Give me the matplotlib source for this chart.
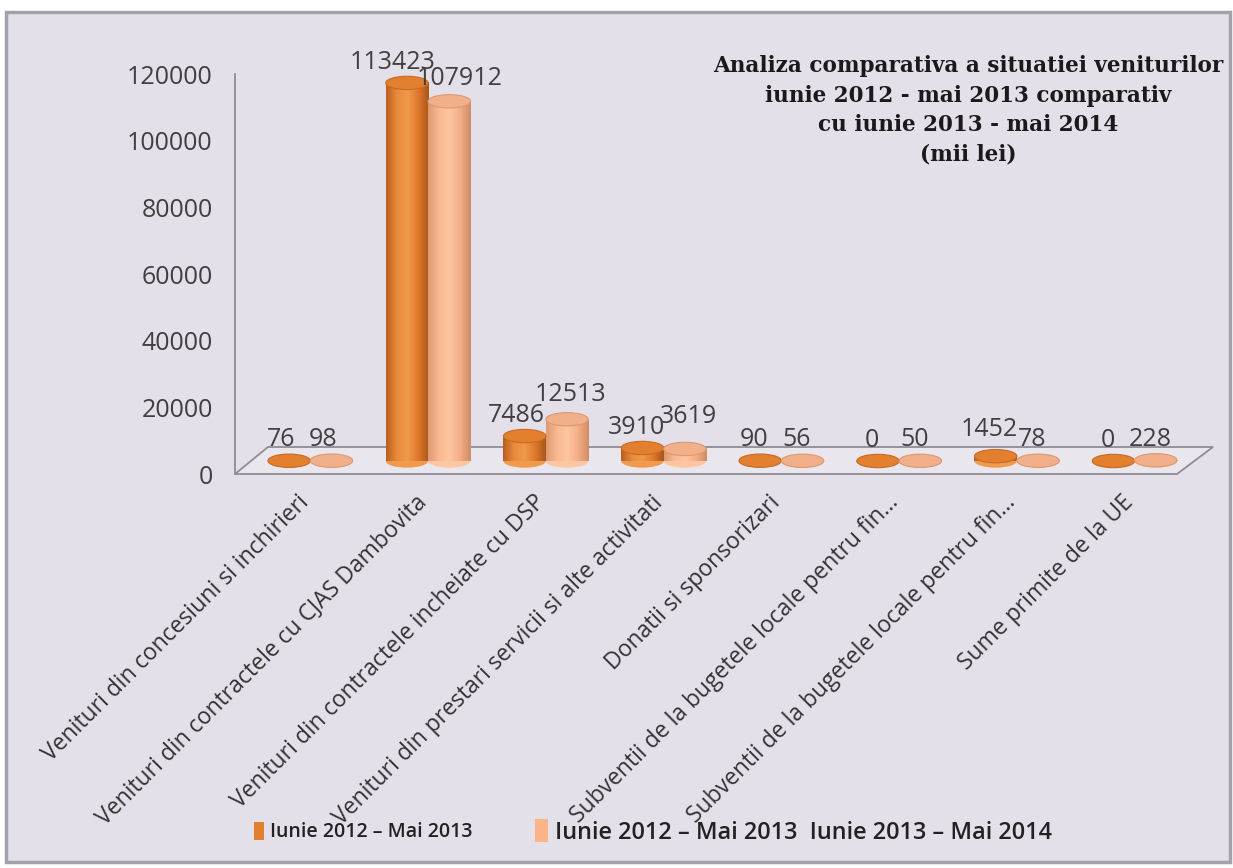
import matplotlib
matplotlib.use("Agg")
import matplotlib.pyplot as plt
import numpy as np
from matplotlib.patches import Ellipse, Patch, Rectangle, Polygon
from matplotlib.colors import LinearSegmentedColormap

categories = [
    "Venituri din concesiuni si inchirieri",
    "Venituri din contractele cu CJAS Dambovita",
    "Venituri din contractele incheiate cu DSP",
    "Venituri din prestari servicii si alte activitati",
    "Donatii si sponsorizari",
    "Subventii de la bugetele locale pentru fin...",
    "Subventii de la bugetele locale pentru fin...",
    "Sume primite de la UE",
]
series_a = [76, 113423, 7486, 3910, 90, 0, 1452, 0]
series_b = [98, 107912, 12513, 3619, 56, 50, 78, 228]
legend_a = "Iunie 2012 \u2013 Mai 2013"
legend_b = "Iunie 2012 \u2013 Mai 2013  Iunie 2013 \u2013 Mai 2014"
yticks = [0, 20000, 40000, 60000, 80000, 100000, 120000]
title = ("Analiza comparativa a situatiei veniturilor\n"
         "iunie 2012 - mai 2013 comparativ\n"
         "cu iunie 2013 - mai 2014\n"
         "(mii lei)")

# label nudges in pixels (dx, dy), to mimic excel's staggering
nudge_a = [(-8, 0), (-14, 0), (-8, 0), (-6, 0), (-6, 0), (-6, 0), (-6, 6), (-6, 0)]
nudge_b = [(-8, 0), (10, 2), (3, 4), (4, 12), (-6, 0), (-6, 0), (-6, 0), (-6, 0)]

W, H = 1233, 868
fig = plt.figure(figsize=(W / 100, H / 100), dpi=100)
fig.patch.set_facecolor("white")
bg = "#e4e0ea"
fig.patches.append(Rectangle((6 / W, 6 / H), 1224 / W, 850 / H, transform=fig.transFigure,
                             facecolor=bg, edgecolor="#a3a1aa", linewidth=2.5, zorder=-5))

ax = fig.add_axes([235 / W, (H - 474) / H, (1177 - 235) / W, (474 - 74) / H])
ax.set_facecolor("none")
ax.set_zorder(2)

font = "Open Sans"
txt_col = "#404040"

shift = 0.14          # depth shift of bars (x units)
base = 3900           # depth shift of bars (y units)
bw = 0.36
cap_h = 4000

cmap_a = LinearSegmentedColormap.from_list("a", ["#b9601f", "#e98a3c", "#f09a4c", "#e07a2c", "#a9551a"])
cmap_b = LinearSegmentedColormap.from_list("b", ["#dd9a72", "#f9b990", "#fdc6a2", "#f4ae86", "#cf8c66"])
grad = np.linspace(0, 1, 64).reshape(1, -1)

def draw_bar(x, v, cmap, top_col, edge_col):
    ax.add_patch(Ellipse((x, base), bw, cap_h, facecolor=cmap(0.5), edgecolor="none", zorder=3))
    if v > 0:
        ax.imshow(grad, cmap=cmap, aspect="auto", extent=[x - bw / 2, x + bw / 2, base, base + v],
                  zorder=4, interpolation="bilinear")
    ax.add_patch(Ellipse((x, base + v), bw, cap_h, facecolor=top_col, edgecolor=edge_col,
                         linewidth=0.8, zorder=5))

for i in range(len(categories)):
    xa = i + shift - bw / 2
    xb = i + shift + bw / 2
    draw_bar(xa, series_a[i], cmap_a, "#e2802f", "#c86a22")
    draw_bar(xb, series_b[i], cmap_b, "#f2b08a", "#dc9870")
    for x, v, (dx, dy) in ((xa, series_a[i], nudge_a[i]), (xb, series_b[i], nudge_b[i])):
        ax.annotate(str(v), (x, base + v), xytext=(dx * 0.72, 6 + dy * 0.72), textcoords="offset points",
                    ha="center", va="bottom", fontsize=18, family=font, color=txt_col, zorder=6)

ax.set_xlim(-0.5, 7.5)
ax.set_ylim(0, 120000)

# floor of the 3d chart
px = 1 / (1177 - 235)
py = 1 / 400
floor = Polygon([(0, 0), (1, 0), (1 + 36 * px, 27 * py), (33 * px, 27 * py)], closed=True,
                transform=ax.transAxes, facecolor="#e9e6ee", edgecolor="#8e8c98", linewidth=1.3,
                clip_on=False, zorder=1)
ax.add_patch(floor)

for s in ["top", "right", "bottom"]:
    ax.spines[s].set_visible(False)
ax.spines["left"].set_color("#8e8c98")
ax.spines["left"].set_linewidth(1.3)

ax.set_yticks(yticks)
ax.set_yticklabels([str(t) for t in yticks], family=font, fontsize=18, color=txt_col)
ax.tick_params(axis="y", length=0, pad=16)
ax.set_xticks([i + 0.03 for i in range(len(categories))])
ax.set_xticklabels(categories, rotation=45, ha="right", rotation_mode="anchor",
                   family=font, fontsize=16.5, color="#333333")
ax.tick_params(axis="x", length=0, pad=12)

fig.text(968 / W, 1 - 55 / H, title, ha="center", va="top", family="DejaVu Serif",
         fontweight="bold", fontsize=15.5, color="#1a1a1a", linespacing=1.45)

leg_kw = dict(loc="center left", frameon=False, handlelength=0.55, handleheight=1.1,
              handletextpad=0.3, labelcolor="#222222")
leg1 = fig.legend([Patch(facecolor="#e2802f", edgecolor="none")], [legend_a],
                  bbox_to_anchor=(236 / W, 1 - 832 / H),
                  prop={"family": font, "weight": "semibold", "size": 14}, **leg_kw)
fig.legend([Patch(facecolor="#fbb48a", edgecolor="none")], [legend_b],
           bbox_to_anchor=(514 / W, 1 - 832 / H),
           prop={"family": font, "weight": "semibold", "size": 16.9}, **leg_kw)

fig.savefig("out.png", dpi=100, facecolor=fig.get_facecolor())
